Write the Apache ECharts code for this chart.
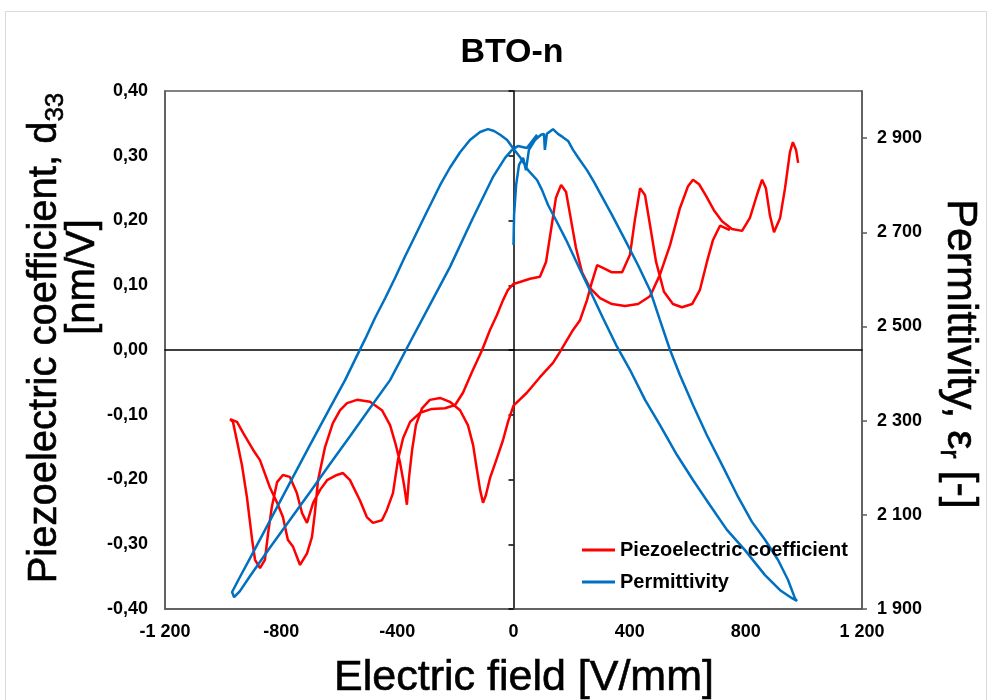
<!DOCTYPE html>
<html>
<head>
  <meta charset="utf-8" />
  <title>BTO-n</title>
  <script src="https://cdn.jsdelivr.net/npm/echarts@6/dist/echarts.min.js"></script>
  <style>
    html, body {
      height: 100%;
      margin: 0;
      padding: 0;
      background: #ffffff;
    }

    #main {
      width: 992px;
      height: 700px;
    }
  </style>
</head>
<body>
  <div id="main"></div>

  <script type="text/javascript">
    // electric field [V/mm] and d33 [nm/V] for the red loop, in measured order
    const piezoField = [
      745, 711, 687, 666, 642, 615, 580, 549, 518, 491, 470, 453, 436, 418, 401, 374, 339, 308, 288, 270,
      253, 229, 205, 160, 136, 91, 46, 0,
      -19, -36, -57, -81, -95, -105, -115, -126, -139, -157, -184, -219, -253, -288, -315, -336, -349, -360,
      -367, -377, -391, -405, -425, -453, -494, -539, -573, -597, -622, -649, -673, -684, -694, -711, -735,
      -759, -777, -794, -814, -839, -873, -897, -931, -952, -976,
      -966, -949, -935, -918, -900, -890, -873, -856, -845, -832, -814, -794, -770, -746, -728, -711, -690,
      -666, -642, -608, -587, -563, -529, -505, -484, -453, -436, -415, -398, -380, -356, -322, -281, -236,
      -201, -174, -143, -108, -81, -57, -36, -19, 0,
      22, 57, 91, 112, 129, 146, 164, 181, 198, 215, 236, 263, 298, 339, 384, 429, 470, 504, 539, 573,
      601, 618, 639, 663, 690, 718, 752, 787, 814, 838, 856, 869, 883, 897, 918, 935, 952, 962, 973, 980
    ];
    const piezoD33 = [
      0.185, 0.192, 0.170, 0.136, 0.093, 0.071, 0.066, 0.071, 0.090, 0.136, 0.193, 0.239, 0.250, 0.201,
      0.147, 0.120, 0.120, 0.127, 0.131, 0.105, 0.077, 0.046, 0.031, -0.003, -0.020, -0.042, -0.066, -0.086,
      -0.111, -0.139, -0.167, -0.198, -0.224, -0.236, -0.216, -0.185, -0.147, -0.116, -0.093, -0.080, -0.074,
      -0.077, -0.090, -0.116, -0.154, -0.198, -0.239, -0.208, -0.173, -0.147, -0.116, -0.093, -0.080, -0.077,
      -0.082, -0.093, -0.113, -0.150, -0.201, -0.252, -0.289, -0.314, -0.332, -0.304, -0.293, -0.258, -0.236,
      -0.212, -0.170, -0.154, -0.128, -0.111, -0.107,
      -0.111, -0.147, -0.178, -0.227, -0.293, -0.324, -0.337, -0.324, -0.283, -0.242, -0.204, -0.193, -0.196,
      -0.221, -0.252, -0.267, -0.236, -0.216, -0.201, -0.193, -0.190, -0.201, -0.232, -0.258, -0.267, -0.263,
      -0.247, -0.221, -0.170, -0.136, -0.111, -0.097, -0.091, -0.090, -0.085, -0.066, -0.034, 0, 0.031,
      0.054, 0.077, 0.093, 0.102,
      0.105, 0.110, 0.113, 0.136, 0.185, 0.235, 0.255, 0.244, 0.201, 0.158, 0.120, 0.096, 0.080, 0.071,
      0.068, 0.071, 0.083, 0.116, 0.162, 0.219, 0.253, 0.263, 0.256, 0.238, 0.216, 0.199, 0.187, 0.184,
      0.204, 0.239, 0.263, 0.250, 0.208, 0.182, 0.204, 0.250, 0.306, 0.321, 0.309, 0.289
    ];

    // electric field [V/mm] and relative permittivity for the blue loop
    const permField = [
      0, 2, 9, 19, 33, 43, 53, 74, 95, 105, 108, 115, 136, 153, 170, 188, 205, 229, 253, 277, 298, 339,
      384, 429, 470, 504, 539, 573, 618, 666, 718, 770, 821, 866, 911, 945, 969, 976,
      959, 918, 866, 797, 735, 676, 618, 563, 504, 453, 401, 353, 308, 263, 222, 181, 146, 119, 98, 81,
      50, 22, -2, -22, -46, -67,
      -88, -115, -150, -184, -219, -253, -305, -339, -374, -408, -442, -477, -511, -546, -580, -632, -701,
      -770, -839, -907, -942, -969, -962,
      -942, -907, -839, -770, -701, -632, -563, -494, -425, -356, -288, -219, -143, -98, -71, -29, -5, 15,
      46, 81
    ];
    const permittivity = [
      2673, 2737, 2800, 2843, 2858, 2832, 2875, 2896, 2907, 2909, 2875, 2909, 2919, 2909, 2902, 2894, 2875,
      2853, 2832, 2807, 2783, 2737, 2684, 2630, 2577, 2514, 2450, 2397, 2333, 2269, 2206, 2142, 2085, 2047,
      2004, 1962, 1923, 1917,
      1923, 1940, 1972, 2025, 2068, 2121, 2174, 2227, 2291, 2344, 2408, 2461, 2518, 2577, 2630, 2684, 2726,
      2758, 2790, 2811, 2832, 2860, 2879, 2896, 2907, 2915,
      2919, 2913, 2896, 2870, 2837, 2800, 2735, 2692, 2648, 2603, 2560, 2518, 2473, 2429, 2386, 2327, 2248,
      2168, 2087, 2008, 1968, 1936, 1925,
      1938, 1970, 2030, 2089, 2148, 2208, 2267, 2327, 2386, 2467, 2546, 2626, 2726, 2783, 2817, 2858, 2875,
      2883, 2879, 2907
    ];

    const chartDom = document.getElementById('main');
    const myChart = echarts.init(chartDom, null, { renderer: 'canvas' });

    const FONT = '"Liberation Sans", Arial, sans-serif';

    function spaced(v) {
      const n = Math.round(v);
      const s = String(Math.abs(n)).replace(/\B(?=(\d{3})+(?!\d))/g, ' ');
      return (n < 0 ? '-' : '') + s;
    }

    function comma(v) {
      if (Math.abs(v) < 1e-9) return '0,00';
      return v.toFixed(2).replace('.', ',');
    }

    const tickLabel = { fontFamily: FONT, fontSize: 18, fontWeight: 'bold', color: '#000' };

    const option = {
      animation: false,
      backgroundColor: '#fff',
      legend: {
        orient: 'vertical',
        left: 577,
        top: 534,
        icon: 'rect',
        itemWidth: 33,
        itemHeight: 3,
        itemGap: 10,
        textStyle: { fontFamily: FONT, fontSize: 20, fontWeight: 'bold', color: '#000', lineHeight: 22 },
        data: ['Piezoelectric coefficient', 'Permittivity']
      },
      grid: {
        left: 165,
        right: 130,
        top: 91,
        bottom: 91,
        show: true,
        borderColor: '#595959',
        borderWidth: 1.5
      },
      xAxis: [
        {
          type: 'value',
          min: -1200,
          max: 1200,
          interval: 400,
          position: 'bottom',
          axisLine: { show: true, onZero: false, lineStyle: { color: '#595959', width: 1.5 } },
          axisTick: { show: false },
          splitLine: { show: false },
          axisLabel: Object.assign({ margin: 14, formatter: spaced }, tickLabel)
        },
        {
          type: 'value',
          min: -1200,
          max: 1200,
          interval: 400,
          position: 'bottom',
          axisLine: { show: true, onZero: true, onZeroAxisIndex: 0, lineStyle: { color: '#000', width: 1.5 } },
          axisTick: { show: false },
          splitLine: { show: false },
          axisLabel: { show: false }
        }
      ],
      yAxis: [
        {
          type: 'value',
          min: -0.4,
          max: 0.4,
          interval: 0.1,
          position: 'left',
          axisLine: { show: true, onZero: false, lineStyle: { color: '#595959', width: 1.5 } },
          axisTick: { show: false },
          splitLine: { show: false },
          axisLabel: Object.assign({ margin: 17, formatter: comma }, tickLabel)
        },
        {
          type: 'value',
          min: 1900,
          max: 3000,
          interval: 200,
          position: 'right',
          axisLine: { show: true, onZero: false, lineStyle: { color: '#595959', width: 1.5 } },
          axisTick: { show: true, length: 5, lineStyle: { color: '#595959', width: 1.5 } },
          splitLine: { show: false },
          axisLabel: Object.assign({ margin: 15, formatter: spaced, showMaxLabel: false }, tickLabel)
        },
        {
          type: 'value',
          min: -0.4,
          max: 0.4,
          interval: 0.1,
          position: 'left',
          axisLine: { show: true, onZero: true, onZeroAxisIndex: 0, lineStyle: { color: '#000', width: 1.5 } },
          axisTick: { show: true, length: 5, lineStyle: { color: '#000', width: 1.5 } },
          splitLine: { show: false },
          axisLabel: { show: false }
        }
      ],
      graphic: [
        {
          type: 'rect',
          silent: true,
          shape: { x: 5.5, y: 11.5, width: 981, height: 700 },
          style: { fill: 'none', stroke: '#d9d9d9', lineWidth: 1 }
        },
        {
          type: 'text',
          x: 512,
          y: 53,
          style: {
            text: 'BTO-n',
            align: 'center',
            verticalAlign: 'middle',
            font: 'bold 34px ' + FONT,
            fill: '#000'
          }
        },
        {
          type: 'text',
          x: 45,
          y: 338,
          rotation: Math.PI / 2,
          style: {
            text: '{a|Piezoelectric coefficient, d}{s|33}',
            align: 'center',
            verticalAlign: 'middle',
            stroke: '#000',
            lineWidth: 0.6,
            rich: {
              a: { fontFamily: FONT, fontSize: 40, lineHeight: 48, fill: '#000', stroke: '#000', lineWidth: 0.6 },
              s: { fontFamily: FONT, fontSize: 26, lineHeight: 26, verticalAlign: 'bottom', fill: '#000', stroke: '#000', lineWidth: 0.6 }
            }
          }
        },
        {
          type: 'text',
          x: 83,
          y: 277,
          rotation: Math.PI / 2,
          style: {
            text: '[nm/V]',
            align: 'center',
            verticalAlign: 'middle',
            font: '40px ' + FONT,
            fill: '#000',
            stroke: '#000',
            lineWidth: 0.6
          }
        },
        {
          type: 'text',
          x: 960,
          y: 354,
          rotation: -Math.PI / 2,
          style: {
            text: '{a|Permittivity, ε}{s|r}{a| [-]}',
            align: 'center',
            verticalAlign: 'middle',
            rich: {
              a: { fontFamily: FONT, fontSize: 43, lineHeight: 50, fill: '#000', stroke: '#000', lineWidth: 0.6 },
              s: { fontFamily: FONT, fontSize: 28, lineHeight: 28, verticalAlign: 'bottom', fill: '#000', stroke: '#000', lineWidth: 0.6 }
            }
          }
        },
        {
          type: 'text',
          x: 524,
          y: 678,
          style: {
            text: 'Electric field [V/mm]',
            align: 'center',
            verticalAlign: 'middle',
            font: '43px ' + FONT,
            fill: '#000',
            stroke: '#000',
            lineWidth: 0.6
          }
        }
      ],
      series: [
        {
          name: 'Piezoelectric coefficient',
          type: 'line',
          xAxisIndex: 0,
          yAxisIndex: 0,
          showSymbol: false,
          symbol: 'none',
          color: '#ff0000',
          lineStyle: { color: '#ff0000', width: 2.5 },
          data: piezoField.map((e, i) => [e, piezoD33[i]])
        },
        {
          name: 'Permittivity',
          type: 'line',
          xAxisIndex: 0,
          yAxisIndex: 1,
          showSymbol: false,
          symbol: 'none',
          color: '#0070c0',
          lineStyle: { color: '#0070c0', width: 2.5 },
          data: permField.map((e, i) => [e, permittivity[i]])
        }
      ]
    };

    myChart.setOption(option);
  </script>
</body>
</html>
